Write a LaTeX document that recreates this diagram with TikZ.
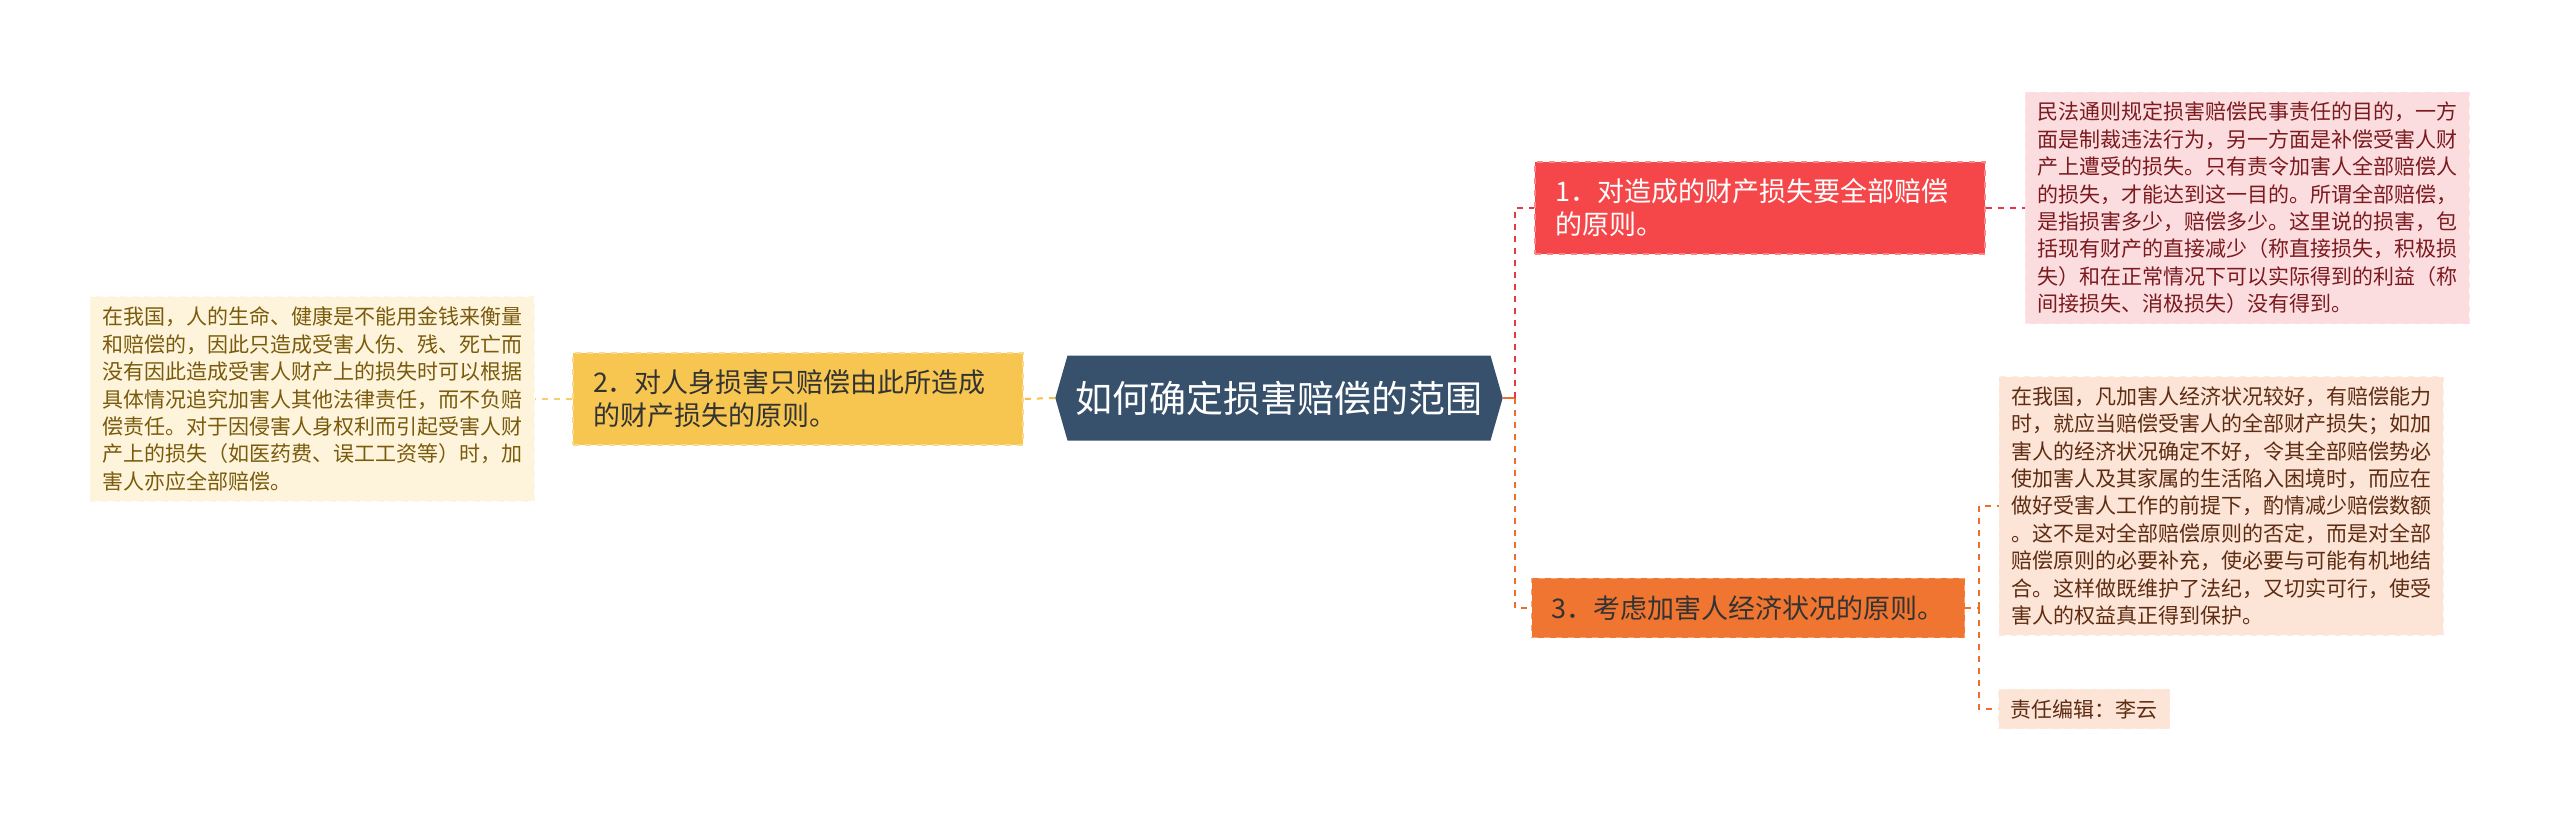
\documentclass[tikz,border=0pt]{standalone}
\usepackage{fontspec}
\setmainfont{Noto Sans CJK SC}
\usepackage{tikz}
\usetikzlibrary{shapes.symbols}
\definecolor{RootFill}{HTML}{37506C}
\definecolor{TopicRed}{HTML}{F5474A}
\definecolor{TopicYellow}{HTML}{F7C650}
\definecolor{TopicOrange}{HTML}{F07530}
\definecolor{LeafRed}{HTML}{FCDDDF}
\definecolor{LeafYellow}{HTML}{FEF4DC}
\definecolor{LeafOrange}{HTML}{FCE4D6}
\definecolor{LeafRedText}{HTML}{7B1A1F}
\definecolor{LeafYellowText}{HTML}{7A5B0C}
\definecolor{LeafOrangeText}{HTML}{5E2C12}
\definecolor{LinkRed}{HTML}{E6393D}
\definecolor{LinkYellow}{HTML}{F4C04E}
\definecolor{LinkOrange}{HTML}{EC6F2B}
\definecolor{InkDark}{HTML}{333333}
\tikzset{
  rootnode/.style={signal, signal to=west and east, signal pointer angle=148,
             fill=RootFill, text=white, minimum height=42.5pt, inner xsep=4pt,
             font=\fontsize{18.5pt}{22pt}\selectfont},
  topic/.style={draw=#1!65!white, fill=#1, dashed, line width=0.6pt,
             align=left, inner xsep=10pt, inner ysep=8.5pt,
             font=\fontsize{13.5pt}{16.5pt}\selectfont},
  leaf/.style={draw=#1!75!white, fill=#1, dashed, line width=0.5pt,
             align=left, inner xsep=6pt, inner ysep=5pt,
             font=\fontsize{10.5pt}{13.7pt}\selectfont},
  link/.style={draw=#1, dashed, line width=1pt},
}
\begin{document}
\begin{tikzpicture}[x=0.5pt, y=-0.5pt]
\fill[white] (0,0) rectangle (2560,824);
\useasboundingbox (0,0) rectangle (2560,824);
% centre
\node[rootnode] (root) at (1279,398) {如何确定损害赔偿的范围};
% main topics
\node[topic=TopicRed, text=white, text width=205pt] (t1) at (1760,208)
  {1．对造成的财产损失要全部赔偿\\的原则。};
\node[topic=TopicYellow, text=InkDark, text width=205pt] (t2) at (798,399)
  {2．对人身损害只赔偿由此所造成\\的财产损失的原则。};
\node[topic=TopicOrange, text=InkDark] (t3) at (1748,608)
  {3．考虑加害人经济状况的原则。};
% leaves
\node[leaf=LeafRed, text=LeafRedText, text width=210pt] (l1) at (2247,208)
  {民法通则规定损害赔偿民事责任的目的，一方\\面是制裁违法行为，另一方面是补偿受害人财\\产上遭受的损失。只有责令加害人全部赔偿人\\的损失，才能达到这一目的。所谓全部赔偿，\\是指损害多少，赔偿多少。这里说的损害，包\\括现有财产的直接减少（称直接损失，积极损\\失）和在正常情况下可以实际得到的利益（称\\间接损失、消极损失）没有得到。};
\node[leaf=LeafYellow, text=LeafYellowText, text width=210pt] (l2) at (312,399)
  {在我国，人的生命、健康是不能用金钱来衡量\\和赔偿的，因此只造成受害人伤、残、死亡而\\没有因此造成受害人财产上的损失时可以根据\\具体情况追究加害人其他法律责任，而不负赔\\偿责任。对于因侵害人身权利而引起受害人财\\产上的损失（如医药费、误工工资等）时，加\\害人亦应全部赔偿。};
\node[leaf=LeafOrange, text=LeafOrangeText, text width=210pt] (l3) at (2221,506)
  {在我国，凡加害人经济状况较好，有赔偿能力\\时，就应当赔偿受害人的全部财产损失；如加\\害人的经济状况确定不好，令其全部赔偿势必\\使加害人及其家属的生活陷入困境时，而应在\\做好受害人工作的前提下，酌情减少赔偿数额\\。这不是对全部赔偿原则的否定，而是对全部\\赔偿原则的必要补充，使必要与可能有机地结\\合。这样做既维护了法纪，又切实可行，使受\\害人的权益真正得到保护。};
\node[leaf=LeafOrange, text=LeafOrangeText] (l4) at (2084,709) {责任编辑：李云};
% connectors
\coordinate (fork) at (1515,398);
\coordinate (fork3) at (1979,608);
\draw[link=LinkYellow] (root.west) -- (t2.east);
\draw[link=LinkYellow!80!white] (t2.west) -- (l2.east);
\draw[line width=1pt, LinkOrange] (root.east) -- (fork);
\draw[link=LinkRed] (fork) |- (t1.west);
\draw[link=LinkOrange] (fork) |- (t3.west);
\draw[link=LinkRed] (t1.east) -- (l1.west);
\draw[link=LinkOrange] (t3.east) -- (fork3);
\draw[link=LinkOrange] (fork3) |- (l3.west);
\draw[link=LinkOrange] (fork3) |- (l4.west);
\end{tikzpicture}
\end{document}
